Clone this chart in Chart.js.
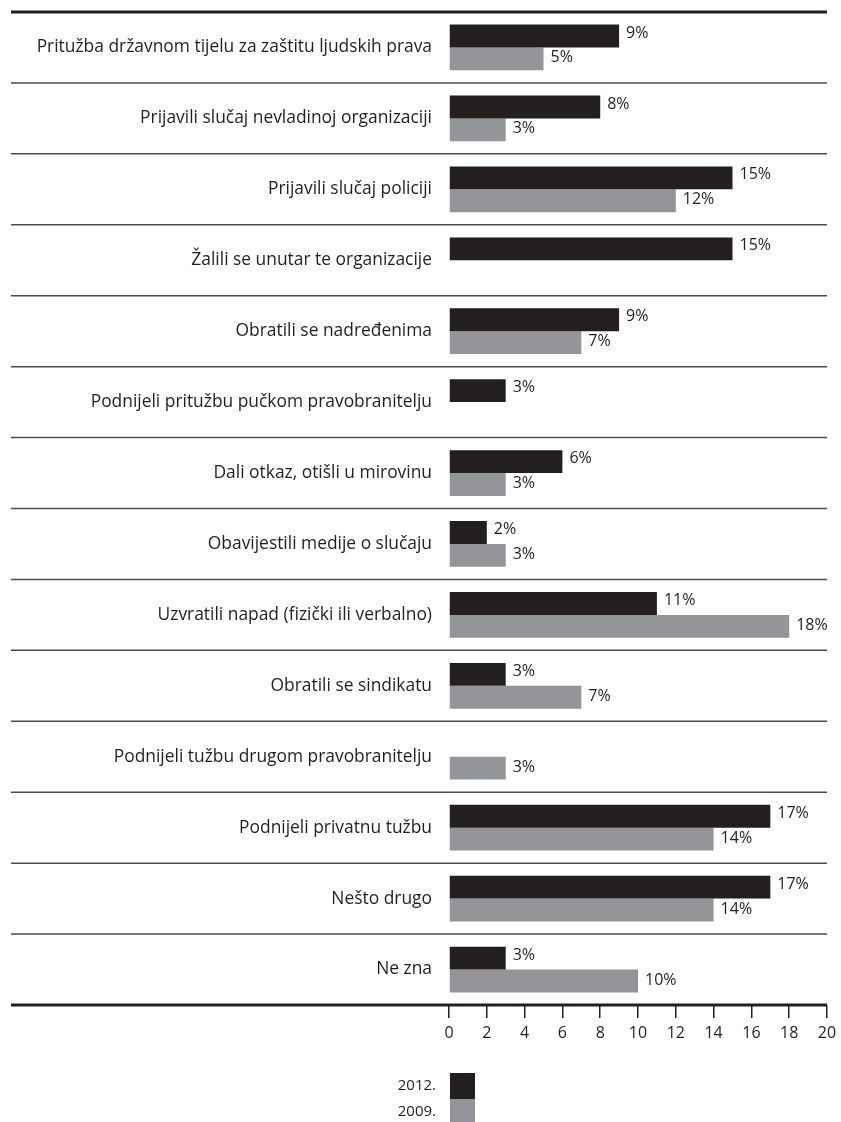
<!DOCTYPE html>
<html>
<head>
<meta charset="utf-8">
<script src="https://cdn.jsdelivr.net/npm/chart.js@4"></script>
<style>
    html, body { margin: 0; padding: 0; background: #fff; }
    #wrap { width: 841px; height: 1122px; }
</style>
</head>
<body>
<div id="wrap"><canvas id="chart"></canvas></div>
<script>
const categories = [
    "Pritužba državnom tijelu za zaštitu ljudskih prava",
    "Prijavili slučaj nevladinoj organizaciji",
    "Prijavili slučaj policiji",
    "Žalili se unutar te organizacije",
    "Obratili se nadređenima",
    "Podnijeli pritužbu pučkom pravobranitelju",
    "Dali otkaz, otišli u mirovinu",
    "Obavijestili medije o slučaju",
    "Uzvratili napad (fizički ili verbalno)",
    "Obratili se sindikatu",
    "Podnijeli tužbu drugom pravobranitelju",
    "Podnijeli privatnu tužbu",
    "Nešto drugo",
    "Ne zna"
];
const values2012 = [9, 8, 15, 15, 9, 3, 6, 2, 11, 3, null, 17, 17, 3];
const values2009 = [5, 3, 12, null, 7, null, 3, 3, 18, 7, 3, 14, 14, 10];
const seriesNames = ["2012.", "2009."];
const xTicks = [0, 2, 4, 6, 8, 10, 12, 14, 16, 18, 20];

const DARK = "#231f20";
const GREY = "#939598";
const FONT = "'Open Sans', sans-serif";

// separators between categories + thick top and bottom rules
const rulesPlugin = {
    id: "rules",
    afterDraw(chart) {
        const ctx = chart.ctx;
        const y = chart.scales.y;
        const area = chart.chartArea;
        const left = 11, right = 827;
        ctx.save();
        ctx.strokeStyle = "#4d4d4f";
        ctx.lineWidth = 1.5;
        for (let i = 0; i < categories.length - 1; i++) {
            const yy = (y.getPixelForTick(i) + y.getPixelForTick(i + 1)) / 2;
            ctx.beginPath();
            ctx.moveTo(left, yy);
            ctx.lineTo(right, yy);
            ctx.stroke();
        }
        ctx.strokeStyle = DARK;
        ctx.lineWidth = 3;
        ctx.beginPath();
        ctx.moveTo(left, area.top);
        ctx.lineTo(right, area.top);
        ctx.moveTo(left, area.bottom);
        ctx.lineTo(right, area.bottom);
        ctx.stroke();
        ctx.restore();
    }
};

// value labels right of each bar
const valueLabels = {
    id: "valueLabels",
    afterDatasetsDraw(chart) {
        const ctx = chart.ctx;
        ctx.save();
        ctx.font = "16px " + FONT;
        ctx.fillStyle = DARK;
        ctx.textAlign = "left";
        ctx.textBaseline = "middle";
        chart.data.datasets.forEach((ds, di) => {
            chart.getDatasetMeta(di).data.forEach((bar, i) => {
                if (ds.data[i] === null) return;
                ctx.fillText(ds.data[i] + "%", bar.x + 7, bar.y - (di === 0 ? 3 : 1));
            });
        });
        ctx.restore();
    }
};

// stacked legend under the axis
const legendBox = {
    id: "legendBox",
    afterDraw(chart) {
        const ctx = chart.ctx;
        const x0 = chart.scales.x.getPixelForValue(0);
        const boxes = [
            { color: DARK, top: 1073, h: 26 },
            { color: GREY, top: 1099, h: 23 }
        ];
        ctx.save();
        ctx.font = "15px " + FONT;
        ctx.textAlign = "right";
        ctx.textBaseline = "middle";
        boxes.forEach((b, i) => {
            ctx.fillStyle = b.color;
            ctx.fillRect(x0 + 1, b.top, 25, b.h);
            ctx.fillStyle = DARK;
            ctx.fillText(seriesNames[i], x0 - 13, b.top + 13);
        });
        ctx.restore();
    }
};

new Chart("chart", {
    type: "bar",
    data: {
        labels: categories,
        datasets: [{
            label: seriesNames[0],
            backgroundColor: DARK,
            data: values2012
        }, {
            label: seriesNames[1],
            backgroundColor: GREY,
            data: values2009
        }]
    },
    options: {
        indexAxis: "y",
        responsive: true,
        maintainAspectRatio: false,
        animation: false,
        categoryPercentage: 0.645,
        barPercentage: 1,
        layout: {
            padding: { top: 12, right: 14, bottom: 72, left: 0 }
        },
        plugins: {
            legend: { display: false },
            tooltip: { enabled: false },
            title: { display: false }
        },
        scales: {
            x: {
                min: 0,
                max: 20,
                afterFit: (scale) => {
                    scale.height = 45;
                    scale.paddingLeft = 0;
                    scale.paddingRight = 0;
                },
                afterBuildTicks: (scale) => {
                    scale.ticks = xTicks.map(v => ({ value: v }));
                },
                border: { display: false },
                grid: {
                    drawOnChartArea: false,
                    drawTicks: true,
                    tickLength: 13,
                    color: DARK,
                    lineWidth: 1.5
                },
                ticks: {
                    color: DARK,
                    padding: 6,
                    maxRotation: 0,
                    font: { family: FONT, size: 16 }
                }
            },
            y: {
                afterFit: (scale) => {
                    scale.width = 449;
                    scale.paddingTop = 0;
                    scale.paddingBottom = 0;
                },
                border: { display: false },
                grid: { display: false, drawTicks: false },
                ticks: {
                    color: DARK,
                    padding: 17,
                    autoSkip: false,
                    font: { family: FONT, size: 17.4 }
                }
            }
        }
    },
    plugins: [rulesPlugin, valueLabels, legendBox]
});
</script>
</body>
</html>
